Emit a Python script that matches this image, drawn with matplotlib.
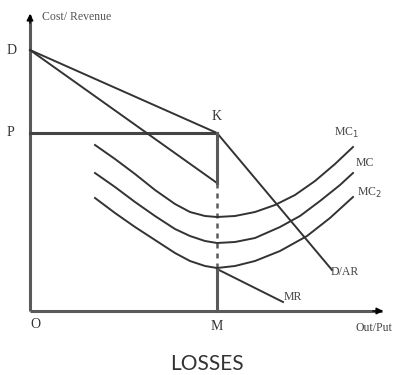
import matplotlib.pyplot as plt

# Diagram values (output on x, cost/revenue on y, origin at O)
d_point = (0, 261)
k_point = (187, 178)
price_p = 178
output_m = 187

ar_lower_end = (302, 41)
mr_upper_end = (187, 128)
mr_lower = [(187, 42), (253, 9)]

mc1_x = [65, 85, 105, 125, 145, 160, 175, 187, 205, 225, 245, 265, 285, 305, 323]
mc1_y = [166, 152, 137, 121, 107, 99, 95, 94, 95, 99, 106, 116, 130, 147, 164]
mc_x = [65, 85, 105, 125, 145, 160, 175, 187, 205, 225, 250, 270, 290, 310, 323]
mc_y = [138, 124, 109, 95, 82, 75, 70, 68, 69, 73, 84, 95, 110, 126, 138]
mc2_x = [65, 85, 105, 125, 145, 160, 175, 187, 205, 225, 250, 277, 300, 323]
mc2_y = [113, 98, 84, 71, 58, 50, 45, 43, 45, 50, 60, 75, 93, 114]

fig = plt.figure(figsize=(4.03, 3.75), dpi=100)
ax = fig.add_axes([0, 0, 1, 1])
ax.set_xlim(-30, 373)
ax.set_ylim(-64, 311)
ax.axis('off')

line_col = '#333333'
axis_col = '#5a5a5a'
serif = ['Liberation Serif', 'DejaVu Serif']

# axes with arrows
ax.plot([0, 0], [0, 296], color=axis_col, lw=2.2, solid_capstyle='butt')
ax.plot([0, 352], [0, 0], color=axis_col, lw=2.2, solid_capstyle='butt')
ax.annotate('', xy=(0, 300), xytext=(0, 285),
            arrowprops=dict(arrowstyle='-|>', color='black', lw=1, mutation_scale=10))
ax.annotate('', xy=(356, 0), xytext=(340, 0),
            arrowprops=dict(arrowstyle='-|>', color='black', lw=1, mutation_scale=10))

# price line P-K
ax.plot([0, k_point[0]], [price_p, price_p], color='#444444', lw=2.2)

# kinked demand D/AR
ax.plot([d_point[0], k_point[0], ar_lower_end[0]],
        [d_point[1], k_point[1], ar_lower_end[1]], color=line_col, lw=1.4)

# MR with gap
ax.plot([d_point[0], mr_upper_end[0]], [d_point[1], mr_upper_end[1]], color=line_col, lw=1.4)
ax.plot([p[0] for p in mr_lower], [p[1] for p in mr_lower], color=line_col, lw=1.4)

# vertical at M
ax.plot([output_m, output_m], [k_point[1], mr_upper_end[1]], color=axis_col, lw=2.2)
ax.plot([output_m, output_m], [mr_upper_end[1], mr_lower[0][1]], color=axis_col, lw=1.8,
        linestyle=(0, (2, 2)))
ax.plot([output_m, output_m], [mr_lower[0][1], 0], color=axis_col, lw=2.2)

# MC curves
for xs, ys in [(mc1_x, mc1_y), (mc_x, mc_y), (mc2_x, mc2_y)]:
    ax.plot(xs, ys, color=line_col, lw=1.4, solid_joinstyle='round')

# labels
small = 8.5
big = 10
ax.text(12, 294, 'Cost/ Revenue', fontsize=small, family=serif, ha='left', va='center', color='#555555')
ax.text(-18, d_point[1], 'D', fontsize=big, family=serif, ha='center', va='center', color='#333333')
ax.text(-20, price_p, 'P', fontsize=big, family=serif, ha='center', va='center', color='#333333')
ax.text(k_point[0], 195, 'K', fontsize=big, family=serif, ha='center', va='center', color='#333333')
ax.text(5, -14, 'O', fontsize=big, family=serif, ha='center', va='center', color='#333333')
ax.text(output_m, -15, 'M', fontsize=big, family=serif, ha='center', va='center', color='#333333')
ax.text(325, -17, 'Out/Put', fontsize=small, family=serif, ha='left', va='center', color='#444444')
ax.text(254, 14, 'MR', fontsize=small, family=serif, ha='left', va='center', color='#444444')
ax.text(301, 39, 'D/AR', fontsize=small, family=serif, ha='left', va='center', color='#444444')
ax.text(304, 178, 'MC$_1$', fontsize=small, family=serif, ha='left', va='center', color='#444444')
ax.text(326, 148, 'MC', fontsize=small, family=serif, ha='left', va='center', color='#444444')
ax.text(327, 118, 'MC$_2$', fontsize=small, family=serif, ha='left', va='center', color='#444444')

ax.text(177, -53, 'LOSSES', fontsize=15, family=['Lato', 'DejaVu Sans'],
        ha='center', va='center', color='#333333')

fig.savefig('out.png', dpi=100)
